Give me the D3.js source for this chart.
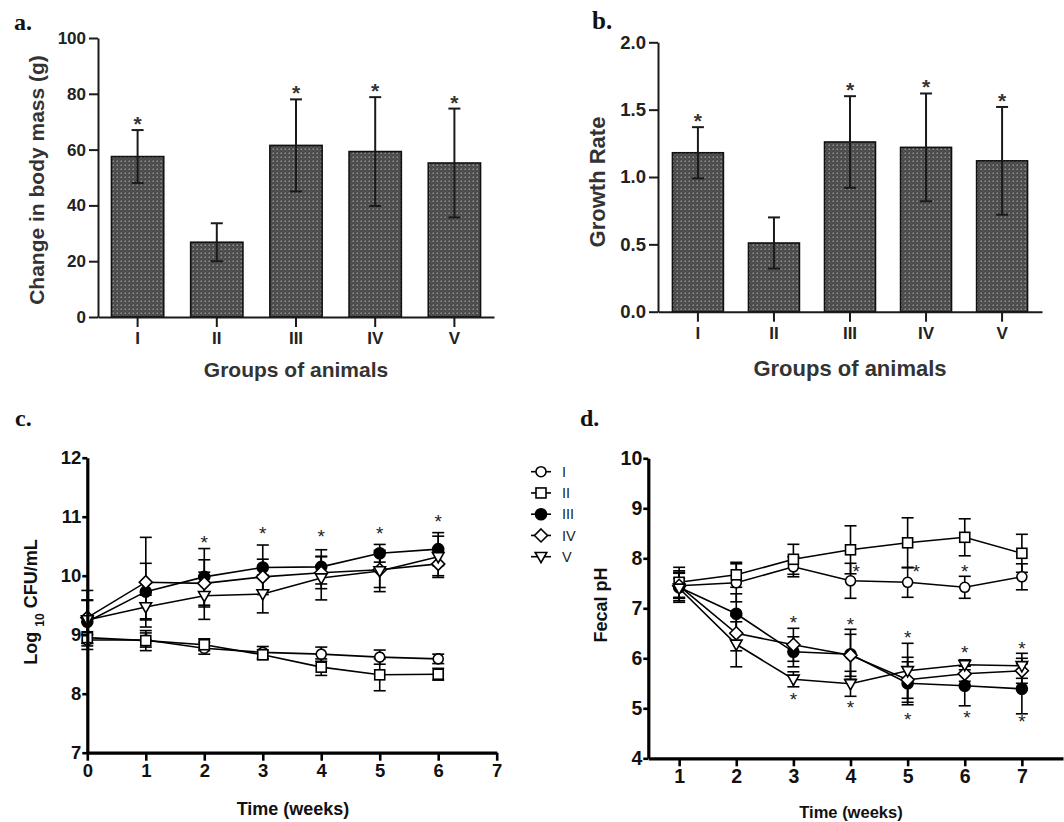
<!DOCTYPE html>
<html><head><meta charset="utf-8">
<script src="https://cdn.jsdelivr.net/npm/d3@7"></script>
<style>
body{margin:0;background:#fff}
svg{display:block}
text{font-family:"Liberation Sans",Arial,sans-serif;}
</style></head><body>
<svg id="chart" width="1064" height="822"></svg>
<script>
// ---------- data ----------
const groups = ["I", "II", "III", "IV", "V"];
const massMean = [57.5, 26.8, 61.5, 59.3, 55.2];
const massSD = [9.5, 6.8, 16.5, 19.5, 19.5];
const massSig = [true, false, true, true, true];
const massTicks = [0, 20, 40, 60, 80, 100];

const rateMean = [1.18, 0.51, 1.26, 1.22, 1.12];
const rateSD = [0.19, 0.19, 0.34, 0.40, 0.40];
const rateSig = [true, false, true, true, true];
const rateTicks = [0, 0.5, 1.0, 1.5, 2.0];

const weeksC = [0, 1, 2, 3, 4, 5, 6];
const cfuI = [8.91, 8.91, 8.77, 8.70, 8.67, 8.62, 8.59];
const cfuIerr = [0.10, 0.12, 0.10, 0.10, 0.12, 0.12, 0.08];
const cfuII = [8.95, 8.90, 8.83, 8.66, 8.45, 8.32, 8.33];
const cfuIIerr = [0.10, 0.17, 0.10, 0.08, 0.14, 0.27, 0.10];
const cfuIII = [9.22, 9.73, 9.98, 10.14, 10.15, 10.38, 10.45];
const cfuIIIerr = [0.36, 0.48, 0.48, 0.38, 0.29, 0.15, 0.28];
const cfuIV = [9.29, 9.89, 9.87, 9.98, 10.05, 10.10, 10.20];
const cfuIVerr = [0.30, 0.76, 0.40, 0.30, 0.27, 0.30, 0.20];
const cfuV = [9.25, 9.47, 9.66, 9.69, 9.96, 10.08, 10.32];
const cfuVerr = [0.50, 0.20, 0.40, 0.32, 0.37, 0.35, 0.35];
const cfuTicksY = [7, 8, 9, 10, 11, 12];
const cfuTicksX = [0, 1, 2, 3, 4, 5, 6, 7];
const starsCx = [2, 3, 4, 5, 6];
const starsCy = [10.63, 10.79, 10.73, 10.79, 10.99];

const weeksD = [1, 2, 3, 4, 5, 6, 7];
const phI = [7.45, 7.51, 7.83, 7.55, 7.52, 7.42, 7.63];
const phIerr = [0.30, 0.38, 0.20, 0.35, 0.30, 0.22, 0.26];
const phII = [7.52, 7.67, 7.98, 8.17, 8.31, 8.42, 8.10];
const phIIerr = [0.30, 0.25, 0.30, 0.48, 0.50, 0.37, 0.38];
const phIII = [7.42, 6.89, 6.13, 6.08, 5.50, 5.45, 5.39];
const phIIIerr = [0.30, 0.40, 0.30, 0.50, 0.43, 0.40, 0.50];
const phIV = [7.45, 6.50, 6.27, 6.06, 5.57, 5.69, 5.75];
const phIVerr = [0.25, 0.35, 0.33, 0.42, 0.45, 0.15, 0.25];
const phV = [7.40, 6.28, 5.58, 5.49, 5.75, 5.87, 5.85];
const phVerr = [0.20, 0.45, 0.15, 0.25, 0.55, 0.10, 0.25];
const phTicksY = [4, 5, 6, 7, 8, 9, 10];
const phTicksX = [1, 2, 3, 4, 5, 6, 7];
const starsDx = [3, 3, 4, 4, 5, 5, 6, 6.04, 7, 7, 4.1, 5.15, 6];
const starsDy = [6.80, 5.27, 6.77, 5.11, 6.50, 4.87, 6.20, 4.90, 6.29, 4.83, 7.83, 7.83, 7.83];

const legendNames = ["I", "II", "III", "IV", "V"];
const markerShapes = ["circle", "square", "dot", "diamond", "tri"];

// ---------- setup ----------
const svg = d3.select("#chart");
const defs = svg.append("defs");
const pat = defs.append("pattern").attr("id", "dots").attr("width", 4).attr("height", 4)
  .attr("patternUnits", "userSpaceOnUse");
pat.append("rect").attr("width", 4).attr("height", 4).attr("fill", "#4a4a4a");
pat.append("rect").attr("x", 0.5).attr("y", 0.5).attr("width", 1.5).attr("height", 1.5).attr("fill", "#939393");
pat.append("rect").attr("x", 2.5).attr("y", 2.5).attr("width", 1).attr("height", 1).attr("fill", "#666");

const TXT = "#222";

function panelLabel(t, x, y, size) {
  svg.append("text").attr("x", x).attr("y", y).text(t)
    .style("font-family", '"Liberation Serif","Times New Roman",serif')
    .style("font-weight", "bold").style("font-size", size + "px").attr("fill", "#111");
}

// ---------- bar panels ----------
function barPanel(o) {
  const g = svg.append("g");
  const x = d3.scaleBand().domain(groups).range(o.xr).paddingInner(o.pi).paddingOuter(o.po);
  const y = d3.scaleLinear().domain(o.yd).range(o.yr);
  const rows = groups.map((k, i) => ({ k, m: o.mean[i], sd: o.sd[i], sig: o.sig[i] }));
  const cx = d => x(d.k) + x.bandwidth() / 2;
  // bars
  g.selectAll("rect.bar").data(rows).join("rect")
    .attr("x", d => x(d.k)).attr("width", x.bandwidth())
    .attr("y", d => y(d.m)).attr("height", d => y(0) - y(d.m))
    .attr("fill", "url(#dots)").attr("stroke", "#111").attr("stroke-width", 1.6);
  // error bars
  const eb = g.selectAll("g.eb").data(rows).join("g")
    .attr("stroke", "#1a1a1a").attr("stroke-width", 2);
  eb.append("line").attr("x1", cx).attr("x2", cx)
    .attr("y1", d => y(d.m - d.sd)).attr("y2", d => y(d.m + d.sd));
  eb.append("line").attr("x1", d => cx(d) - 6).attr("x2", d => cx(d) + 6)
    .attr("y1", d => y(d.m + d.sd)).attr("y2", d => y(d.m + d.sd));
  eb.append("line").attr("x1", d => cx(d) - 6).attr("x2", d => cx(d) + 6)
    .attr("y1", d => y(d.m - d.sd)).attr("y2", d => y(d.m - d.sd));
  // stars
  g.selectAll("text.star").data(rows.filter(d => d.sig)).join("text")
    .attr("x", cx).attr("y", d => y(d.m + d.sd) + 1)
    .attr("text-anchor", "middle").style("font-size", "21px").style("font-weight", "bold")
    .attr("fill", "#333").text("*");
  // axes
  const ya = g.append("g").attr("transform", `translate(${o.xr[0]},0)`)
    .call(d3.axisLeft(y).tickValues(o.ticks).tickFormat(o.fmt).tickSize(9).tickSizeOuter(0).tickPadding(3));
  const xa = g.append("g").attr("transform", `translate(0,${o.yr[0]})`)
    .call(d3.axisBottom(x).tickSize(10).tickSizeOuter(0).tickPadding(5));
  [ya, xa].forEach(a => {
    a.select(".domain").attr("stroke", "#1a1a1a").attr("stroke-width", 2);
    a.selectAll(".tick line").attr("stroke", "#1a1a1a").attr("stroke-width", 2);
    a.selectAll("text").attr("fill", TXT).style("font-weight", "bold")
      .style("font-family", '"Liberation Sans",Arial,sans-serif');
  });
  ya.selectAll("text").style("font-size", o.tickFs + "px");
  xa.selectAll("text").style("font-size", "17px");
  // titles
  g.append("text").attr("transform", `translate(${o.ylx},${o.yly}) rotate(-90)`)
    .attr("text-anchor", "middle").attr("dy", "0.35em").style("font-size", o.titleFs + "px")
    .style("font-weight", "bold").attr("fill", "#333").text(o.ylabel);
  g.append("text").attr("x", o.xlx).attr("y", o.xly).attr("text-anchor", "middle").attr("dy", "0.35em")
    .style("font-size", o.titleFs + "px").style("font-weight", "bold").attr("fill", "#333")
    .text("Groups of animals");
}

barPanel({ mean: massMean, sd: massSD, sig: massSig, ticks: massTicks, fmt: d3.format("d"),
  xr: [98, 494], yr: [317, 38], yd: [0, 100], pi: 0.34, po: 0.17, tickFs: 17, titleFs: 21,
  ylabel: "Change in body mass (g)", ylx: 37, yly: 180, xlx: 296, xly: 370 });
barPanel({ mean: rateMean, sd: rateSD, sig: rateSig, ticks: rateTicks, fmt: d3.format(".1f"),
  xr: [658, 1042], yr: [311.7, 42.3], yd: [0, 2], pi: 0.33, po: 0.19, tickFs: 18.5, titleFs: 22,
  ylabel: "Growth Rate", ylx: 597, yly: 182, xlx: 850, xly: 368 });

panelLabel("a.", 14, 30, 24);
panelLabel("b.", 592, 29, 25);
panelLabel("c.", 15, 426, 24);
panelLabel("d.", 580, 426, 24);

// ---------- marker helper ----------
function marker(sel, shape) {
  if (shape === "circle") sel.append("circle").attr("r", 5).attr("fill", "#fff");
  else if (shape === "dot") sel.append("circle").attr("r", 5.5).attr("fill", "#000");
  else if (shape === "square") sel.append("rect").attr("x", -5).attr("y", -5).attr("width", 10).attr("height", 10).attr("fill", "#fff");
  else if (shape === "diamond") sel.append("path").attr("d", "M0,-6.5L6.5,0L0,6.5L-6.5,0Z").attr("fill", "#fff");
  else sel.append("path").attr("d", "M-5.8,-4.2L5.8,-4.2L0,6Z").attr("fill", "#fff");
  sel.selectAll("*").attr("stroke", "#000").attr("stroke-width", 1.6);
}

// ---------- line panels ----------
function linePanel(o) {
  const g = svg.append("g");
  const x = d3.scaleLinear().domain(o.xd).range(o.xr);
  const y = d3.scaleLinear().domain(o.yd).range(o.yr);
  // error bars
  o.series.forEach(s => {
    const eg = g.append("g").attr("stroke", "#000").attr("stroke-width", 1.6);
    s.m.forEach((v, i) => {
      const cx = x(o.t[i]);
      eg.append("line").attr("x1", cx).attr("x2", cx).attr("y1", y(v - s.e[i])).attr("y2", y(v + s.e[i]));
      eg.append("line").attr("x1", cx - 6).attr("x2", cx + 6).attr("y1", y(v + s.e[i])).attr("y2", y(v + s.e[i]));
      eg.append("line").attr("x1", cx - 6).attr("x2", cx + 6).attr("y1", y(v - s.e[i])).attr("y2", y(v - s.e[i]));
    });
  });
  // lines
  const line = d3.line().x((d, i) => x(o.t[i])).y(d => y(d));
  o.series.forEach(s => {
    g.append("path").datum(s.m).attr("d", line).attr("fill", "none")
      .attr("stroke", "#000").attr("stroke-width", 1.6);
  });
  // markers
  o.series.forEach(s => {
    s.m.forEach((v, i) => {
      const mg = g.append("g").attr("transform", `translate(${x(o.t[i])},${y(v)})`);
      marker(mg, s.shape);
    });
  });
  // stars
  const stars = o.sx.map((t, i) => ({ t, v: o.sy[i] }));
  g.selectAll("text.star").data(stars).join("text")
    .attr("x", d => x(d.t)).attr("y", d => y(d.v)).attr("dy", "0.57em")
    .attr("text-anchor", "middle").style("font-size", "19px").attr("fill", "#222").text("*");
  // axes
  const ya = g.append("g").attr("transform", `translate(${o.xr[0]},0)`)
    .call(d3.axisLeft(y).tickValues(o.yt).tickFormat(d3.format("d")).tickSize(5).tickSizeOuter(0).tickPadding(1));
  const xa = g.append("g").attr("transform", `translate(0,${o.yr[0]})`)
    .call(d3.axisBottom(x).tickValues(o.xt).tickFormat(d3.format("d")).tickSize(8).tickSizeOuter(0).tickPadding(3));
  [ya, xa].forEach(a => {
    a.select(".domain").attr("stroke", "#000").attr("stroke-width", 3.2);
    a.selectAll(".tick line").attr("stroke", "#000").attr("stroke-width", 2.6);
    a.selectAll("text").attr("fill", "#111").style("font-weight", "bold")
      .style("font-size", o.tickFs + "px").style("font-family", '"Liberation Sans",Arial,sans-serif');
  });
  const yl = g.append("text").attr("transform", `translate(${o.ylx},${o.yly}) rotate(-90)`)
    .attr("text-anchor", "middle").attr("dy", "0.35em").style("font-size", o.ylFs + "px")
    .style("font-weight", "bold").attr("fill", "#111");
  o.ylabel(yl);
  g.append("text").attr("x", o.xlx).attr("y", o.xly).attr("text-anchor", "middle").attr("dy", "0.35em")
    .style("font-size", o.xlFs + "px").style("font-weight", "bold").attr("fill", "#111").text("Time (weeks)");
}

linePanel({
  t: weeksC, xd: [0, 7], xr: [87.3, 496.7], yd: [7, 12], yr: [752.7, 457.7],
  xt: cfuTicksX, yt: cfuTicksY, tickFs: 18.5,
  series: [
    { m: cfuI, e: cfuIerr, shape: markerShapes[0] },
    { m: cfuII, e: cfuIIerr, shape: markerShapes[1] },
    { m: cfuIII, e: cfuIIIerr, shape: markerShapes[2] },
    { m: cfuIV, e: cfuIVerr, shape: markerShapes[3] },
    { m: cfuV, e: cfuVerr, shape: markerShapes[4] }],
  sx: starsCx, sy: starsCy,
  ylx: 31, yly: 602, ylFs: 18,
  ylabel: t => {
    t.append("tspan").text("Log ");
    t.append("tspan").text("10").style("font-size", "12px").attr("baseline-shift", "sub");
    t.append("tspan").text(" CFU/mL");
  },
  xlx: 293, xly: 809, xlFs: 18
});

linePanel({
  t: weeksD, xd: [0.46, 7.72], xr: [648.3, 1063], yd: [4, 10], yr: [758.3, 458.3],
  xt: phTicksX, yt: phTicksY, tickFs: 19.5,
  series: [
    { m: phI, e: phIerr, shape: markerShapes[0] },
    { m: phII, e: phIIerr, shape: markerShapes[1] },
    { m: phIII, e: phIIIerr, shape: markerShapes[2] },
    { m: phIV, e: phIVerr, shape: markerShapes[3] },
    { m: phV, e: phVerr, shape: markerShapes[4] }],
  sx: starsDx, sy: starsDy,
  ylx: 601, yly: 605, ylFs: 18,
  ylabel: t => t.text("Fecal pH"),
  xlx: 851, xly: 812, xlFs: 16.5
});

// ---------- legend ----------
const lg = svg.append("g");
const ly = d3.scalePoint().domain(legendNames).range([471.7, 556.7]);
legendNames.forEach((n, i) => {
  const row = lg.append("g").attr("transform", `translate(541,${ly(n)})`);
  row.append("line").attr("x1", -10).attr("x2", 10).attr("stroke", "#000").attr("stroke-width", 1.6);
  marker(row, markerShapes[i]);
  row.append("text").attr("x", 21).attr("dy", "0.36em").style("font-size", "14.5px")
    .attr("fill", "#222").text(n);
});
</script>
</body></html>
